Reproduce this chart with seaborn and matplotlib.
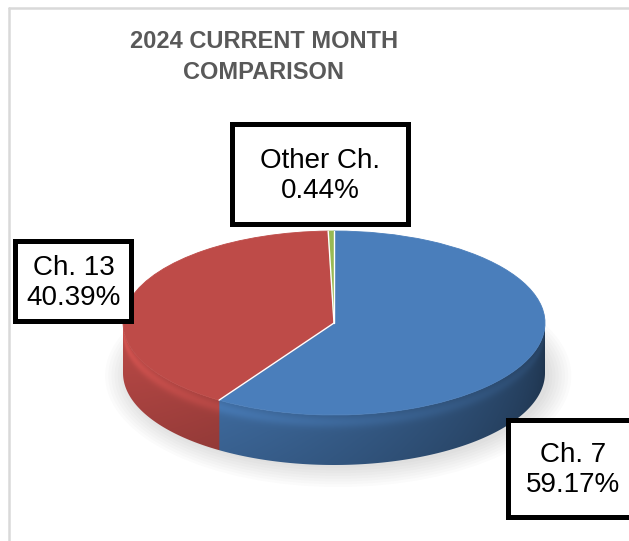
import numpy as np
import matplotlib
matplotlib.use("Agg")
import matplotlib.pyplot as plt
import seaborn as sns
from matplotlib.patches import Rectangle, Ellipse, Polygon
from matplotlib.colors import to_rgb

# chart data
categories = ["Ch. 7", "Ch. 13", "Other Ch."]
shares = [59.17, 40.39, 0.44]
slice_colors = ["#4a7ebb", "#be4b48", "#98b954"]
chart_title = "2024 CURRENT MONTH\nCOMPARISON"

sns.set_theme(style="white")
plt.rcParams['font.family'] = ['Liberation Sans', 'DejaVu Sans']

W, H = 629, 541
fig = plt.figure(figsize=(W / 100, H / 100), dpi=100)
fig.patch.set_facecolor("white")
ax = fig.add_axes([0, 0, 1, 1])

# pie geometry in pixels (ellipse for the tilted look)
cx, cy, a, b = 334, 323, 211, 92
depth = 50 / b

# soft shadow under the pie
for k in range(8):
    ax.add_patch(Ellipse((0.02, -depth - 0.03), 2.0 + 0.03 * k, 2.0 + 0.06 * k,
                         facecolor="#000000", alpha=0.015, edgecolor="none", zorder=0))

# side of the pie (front half): colour image clipped to the side outline
total = sum(shares)
cum = np.cumsum([0] + [360 * v / total for v in shares])
base = np.array([to_rgb(c) for c in slice_colors])
xs = np.linspace(-1, 1, 600)
ys = np.linspace(-1 - depth, 0, 300)
X, Y = np.meshgrid(xs, ys)
theta = 2 * np.pi - np.arccos(np.clip(X, -1, 1))
deg = np.degrees(theta)
off = (90 - deg) % 360
idx = np.clip(np.searchsorted(cum, off) - 1, 0, len(shares) - 1)
t = (deg - 180) / 180
shade = 1.0 - 0.56 * t ** 1.1
s = np.clip((np.sin(theta) - Y) / depth, 0, 1)
prof = 1.0 + 0.14 * np.exp(-((s - 0.15) / 0.12) ** 2) - 0.08 * s
img = np.clip(base[idx] * (shade * prof)[..., None], 0, 1)
side_img = ax.imshow(img, extent=(-1, 1, -1 - depth, 0), origin="lower",
                     aspect="auto", interpolation="bilinear", zorder=1)
arc = np.radians(np.linspace(180, 360, 200))
outline = np.vstack([np.column_stack([np.cos(arc), np.sin(arc)]),
                     np.column_stack([np.cos(arc[::-1]), np.sin(arc[::-1]) - depth])])
clip = Polygon(outline, closed=True, facecolor="none", edgecolor="none")
ax.add_patch(clip)
side_img.set_clip_path(clip)

# top face
wedges, _ = ax.pie(shares, colors=slice_colors, startangle=90, counterclock=False,
                   wedgeprops=dict(linewidth=0.6, zorder=3))
for w in wedges:
    w.set_edgecolor(w.get_facecolor())

# thin white separators between slices
for c in cum[:-1]:
    ang = np.radians(90 - c)
    ax.plot([0, np.cos(ang)], [0, np.sin(ang)], color="white", lw=1.0, zorder=4)

ax.set_aspect("auto")
ax.set_xlim(-cx / a, (W - cx) / a)
ax.set_ylim(-(H - cy) / b, cy / b)
ax.axis("off")


def fx(x):
    return x / W


def fy(y):
    return 1 - y / H


# light chart frame
fig.add_artist(plt.Line2D([fx(9), fx(9)], [fy(8), fy(H + 5)], color="#d9d9d9", lw=1.8))
fig.add_artist(plt.Line2D([fx(9), fx(W + 5)], [fy(8), fy(8)], color="#d9d9d9", lw=1.8))

fig.text(fx(264), fy(57), chart_title, ha="center", va="center", fontsize=17,
         fontweight="bold", color="#595959", linespacing=1.4)

# data labels in boxed callouts
label_boxes = [(508, 420, 135, 97), (15, 241, 116, 80), (232, 124, 176, 100)]
label_centers = [(573, 470), (74, 283), (320, 176)]
for name, val, (bx, by, bw, bh), (tx, ty) in zip(categories, shares, label_boxes, label_centers):
    fig.add_artist(Rectangle((fx(bx), fy(by + bh)), bw / W, bh / H, transform=fig.transFigure,
                             facecolor="white", edgecolor="black", linewidth=3.6, zorder=5))
    fig.text(fx(tx), fy(ty), f"{name}\n{val:.2f}%", ha="center", va="center",
             fontsize=20, color="black", linespacing=1.22, zorder=6)

fig.savefig("out.png", dpi=100)
